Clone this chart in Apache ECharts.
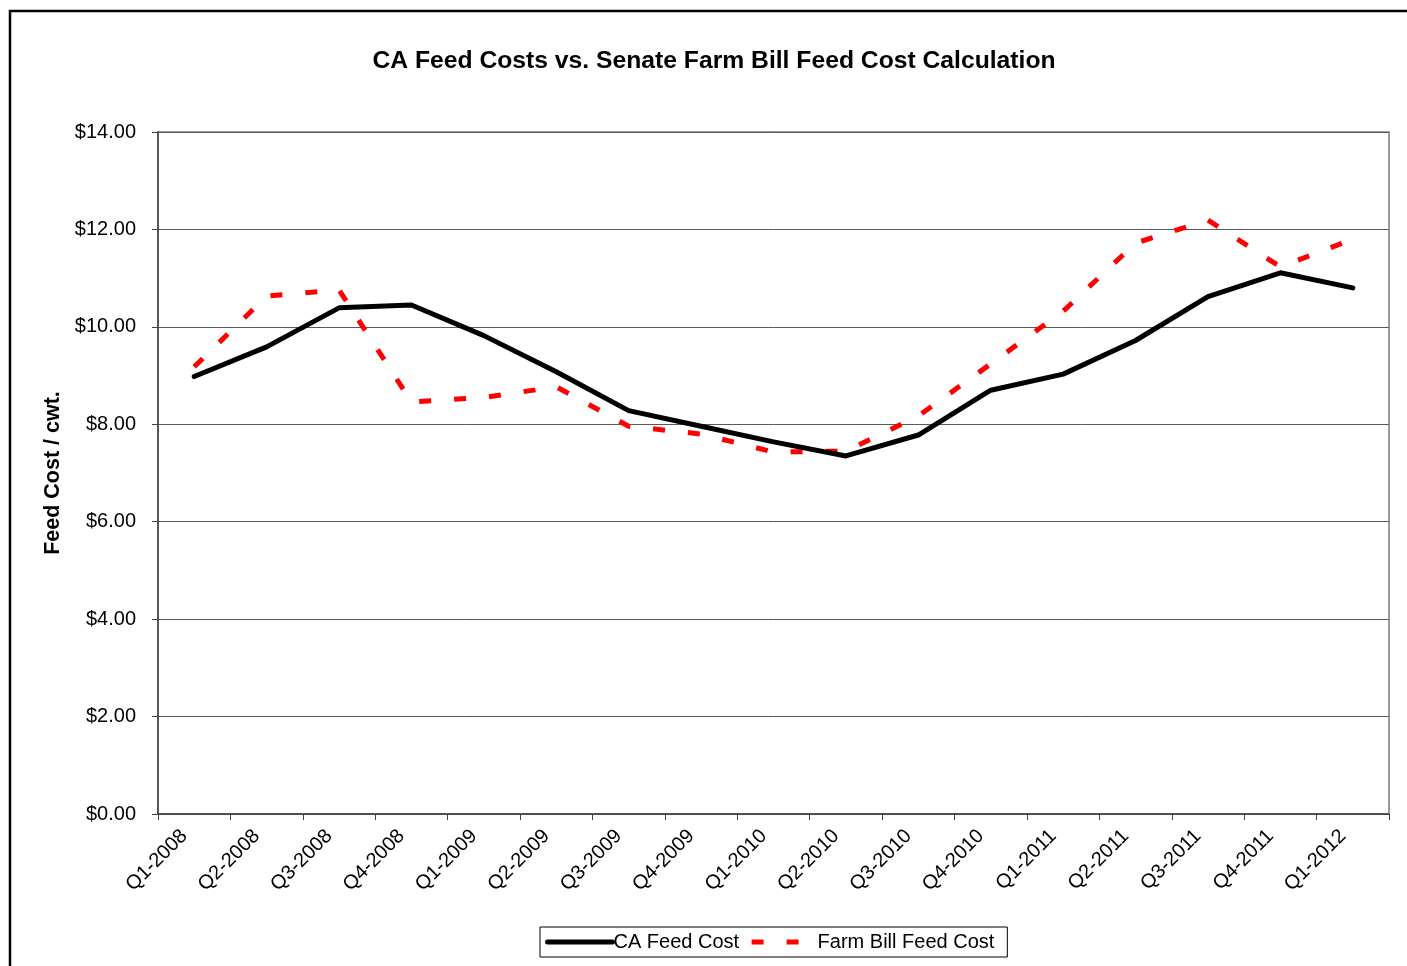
<!DOCTYPE html>
<html>
<head>
<meta charset="utf-8">
<title>CA Feed Costs vs. Senate Farm Bill Feed Cost Calculation</title>
<script src="https://cdn.jsdelivr.net/npm/echarts@6/dist/echarts.min.js"></script>
<style>
  html, body { margin: 0; padding: 0; background: #ffffff; }
  #chart { width: 1407px; height: 966px; }
</style>
</head>
<body>
<div id="chart"></div>
<script>
// Quarterly categories
const quarters = [
  'Q1-2008', 'Q2-2008', 'Q3-2008', 'Q4-2008',
  'Q1-2009', 'Q2-2009', 'Q3-2009', 'Q4-2009',
  'Q1-2010', 'Q2-2010', 'Q3-2010', 'Q4-2010',
  'Q1-2011', 'Q2-2011', 'Q3-2011', 'Q4-2011',
  'Q1-2012'
];

// Feed cost, $ per cwt.
const caFeedCost = [
  8.98, 9.59, 10.39, 10.45,
  9.82, 9.08, 8.28, 7.96,
  7.64, 7.35, 7.78, 8.70,
  9.03, 9.72, 10.62, 11.11,
  10.80
];

const farmBillFeedCost = [
  9.18, 10.63, 10.76, 8.46,
  8.55, 8.77, 7.96, 7.80,
  7.43, 7.45, 8.17, 9.24,
  10.32, 11.72, 12.19, 11.23,
  11.80
];

// Value axis range
const yMin = 0;
const yMax = 14;
const yStep = 2;

const FONT = '"Liberation Sans", Arial, Helvetica, sans-serif';

const chart = echarts.init(document.getElementById('chart'), null, { renderer: 'canvas' });

chart.setOption({
  backgroundColor: '#ffffff',
  animation: false,
  textStyle: { fontFamily: FONT, color: '#000' },
  graphic: [{
    type: 'rect',
    z: -10,
    shape: { x: 10, y: 11, width: 1500, height: 1000 },
    style: { fill: 'none', stroke: '#000', lineWidth: 2.5 }
  }],
  title: {
    text: 'CA Feed Costs vs. Senate Farm Bill Feed Cost Calculation',
    left: 709,
    top: 44,
    textAlign: 'center',
    textStyle: { fontFamily: FONT, fontSize: 24.7, fontWeight: 'bold', color: '#000' }
  },
  legend: {
    left: 540,
    top: 927,
    orient: 'horizontal',
    padding: [5, 13, 5, 5],
    itemGap: 10,
    itemWidth: 65,
    itemHeight: 12,
    borderColor: '#000',
    borderWidth: 1,
    itemStyle: { opacity: 0 },
    lineStyle: { width: 5 },
    textStyle: { fontFamily: FONT, fontSize: 20, color: '#000', padding: [0, 0, 0, -4] },
    data: ['CA Feed Cost', 'Farm Bill Feed Cost']
  },
  grid: {
    left: 158,
    top: 132,
    right: 18,
    bottom: 152,
    show: true,
    borderColor: '#9a9a9a',
    borderWidth: 2,
    backgroundColor: '#fff'
  },
  xAxis: {
    type: 'category',
    data: quarters,
    boundaryGap: true,
    axisLine: { show: true, lineStyle: { color: '#404040', width: 1.5 } },
    axisTick: { show: true, length: 6, lineStyle: { color: '#404040', width: 1 } },
    axisLabel: {
      rotate: 45,
      margin: 9,
      interval: 0,
      padding: [0, 14, 0, 0],
      fontFamily: FONT,
      fontSize: 20,
      color: '#000'
    },
    splitLine: { show: false }
  },
  yAxis: {
    type: 'value',
    min: yMin,
    max: yMax,
    interval: yStep,
    name: 'Feed Cost / cwt.',
    nameLocation: 'middle',
    nameRotate: 90,
    nameGap: 94,
    nameTextStyle: { fontFamily: FONT, fontSize: 21.5, fontWeight: 'bold', color: '#000' },
    axisLine: { show: true, lineStyle: { color: '#404040', width: 1.5 } },
    axisTick: { show: true, length: 6, lineStyle: { color: '#404040', width: 1 } },
    axisLabel: {
      margin: 22,
      fontFamily: FONT,
      fontSize: 20,
      color: '#000',
      formatter: v => '$' + v.toFixed(2)
    },
    splitLine: { show: true, lineStyle: { color: '#5a5a5a', width: 1 } }
  },
  series: [
    {
      name: 'CA Feed Cost',
      type: 'line',
      data: caFeedCost,
      symbol: 'none',
      smooth: false,
      z: 3,
      itemStyle: { color: '#000' },
      lineStyle: { color: '#000', width: 5, cap: 'round', join: 'round' }
    },
    {
      name: 'Farm Bill Feed Cost',
      type: 'line',
      data: farmBillFeedCost,
      symbol: 'none',
      smooth: false,
      z: 2,
      itemStyle: { color: '#ff0000' },
      lineStyle: { color: '#ff0000', width: 5, type: [12, 23], cap: 'butt' }
    }
  ]
});
</script>
</body>
</html>
